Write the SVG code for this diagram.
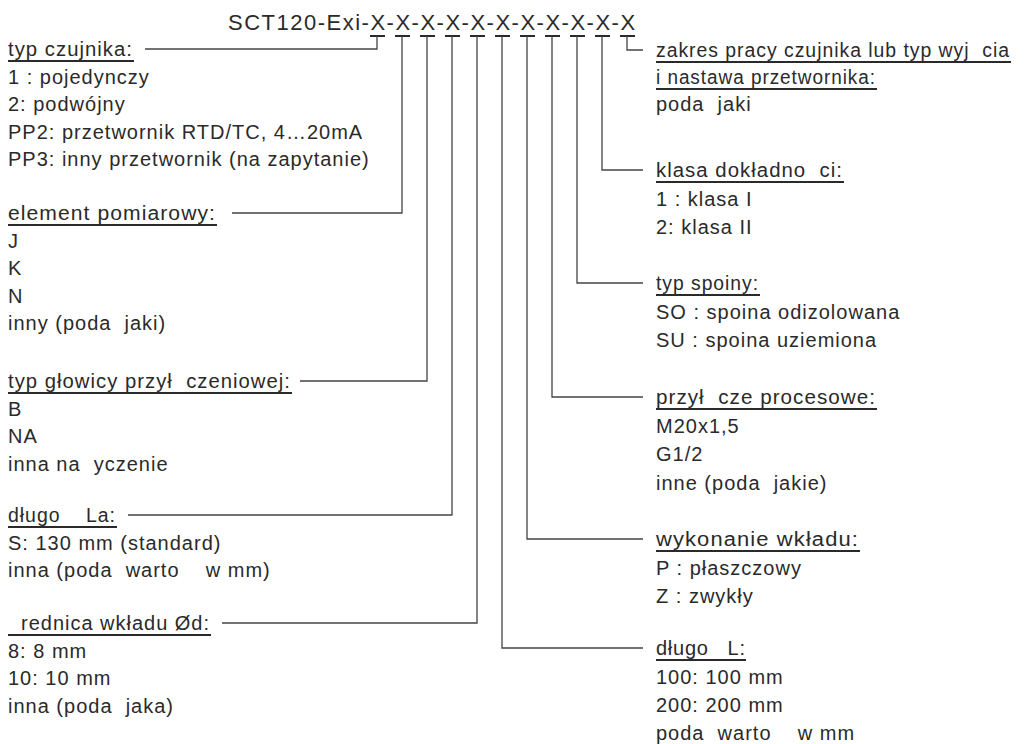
<svg xmlns="http://www.w3.org/2000/svg" width="1029" height="744" viewBox="0 0 1029 744">
<style>
text{font-family:"Liberation Sans",Arial,sans-serif;fill:#2a2a2a;}
.t{font-size:22px;letter-spacing:1.5px;}
.b{font-size:20px;letter-spacing:1px;}
.c{stroke:#444;stroke-width:1.3;fill:none;}
.u{stroke:#2a2a2a;stroke-width:2;fill:none;}
.ux{stroke:#2a2a2a;stroke-width:1.8;}
</style>
<rect width="1029" height="744" fill="#fff"/>
<g id="title">
<text class="t" x="228" y="30">SCT120-Exi-X-X-X-X-X-X-X-X-X-X-X</text>
<path class="ux" d="M370 36h15M395 36h15M420 36h15M445 36h15M470 36h15M495 36h15M520 36h15M545 36h15M570 36h15M595 36h15M620 36h15"/>
</g>
<g id="connectors">
<path class="c" d="M377 36V49H145"/>
<path class="c" d="M402 36V213H232"/>
<path class="c" d="M427 36V381H300"/>
<path class="c" d="M452 36V515H128"/>
<path class="c" d="M477 36V623H222"/>
<path class="c" d="M502 36V648H643"/>
<path class="c" d="M527 36V539H643"/>
<path class="c" d="M552 36V397H643"/>
<path class="c" d="M577 36V283H643"/>
<path class="c" d="M602 36V170H643"/>
<path class="c" d="M627 36V50H643"/>
</g>
<g id="typ-czujnika">
<text class="b" x="8" y="56" textLength="125" lengthAdjust="spacingAndGlyphs">typ czujnika:</text>
<path class="u" d="M8 61h126"/>
<text class="b" x="8" y="83.5">1 : pojedynczy</text>
<text class="b" x="8" y="111">2: podwójny</text>
<text class="b" x="8" y="138.5">PP2: przetwornik RTD/TC, 4…20mA</text>
<text class="b" x="8" y="166">PP3: inny przetwornik (na zapytanie)</text>
</g>
<g id="element-pomiarowy">
<text class="b" x="8" y="220" textLength="208" lengthAdjust="spacingAndGlyphs">element pomiarowy:</text>
<path class="u" d="M8 225h209"/>
<text class="b" x="8" y="247.5">J</text>
<text class="b" x="8" y="275">K</text>
<text class="b" x="8" y="302.5">N</text>
<text class="b" x="8" y="330">inny (poda&#160;&#160;jaki)</text>
</g>
<g id="typ-glowicy">
<text class="b" x="8" y="388" textLength="283" lengthAdjust="spacingAndGlyphs">typ głowicy przył&#160;&#160;czeniowej:</text>
<path class="u" d="M8 393h284"/>
<text class="b" x="8" y="415.5">B</text>
<text class="b" x="8" y="443">NA</text>
<text class="b" x="8" y="470.5">inna na&#160;&#160;yczenie</text>
</g>
<g id="dlugosc-la">
<text class="b" x="8" y="522" textLength="108" lengthAdjust="spacingAndGlyphs">długo&#160;&#160;&#160;&#160;La:</text>
<path class="u" d="M8 527h109"/>
<text class="b" x="8" y="549.5">S: 130 mm (standard)</text>
<text class="b" x="8" y="577">inna (poda&#160;&#160;warto&#160;&#160;&#160;&#160;w mm)</text>
</g>
<g id="srednica">
<text class="b" x="8" y="630" textLength="202" lengthAdjust="spacingAndGlyphs">&#160;&#160;rednica wkładu Ød:</text>
<path class="u" d="M8 635h203"/>
<text class="b" x="8" y="657.5">8: 8 mm</text>
<text class="b" x="8" y="685">10: 10 mm</text>
<text class="b" x="8" y="712.5">inna (poda&#160;&#160;jaka)</text>
</g>
<g id="zakres-pracy">
<text class="b" x="656" y="57" textLength="354" lengthAdjust="spacingAndGlyphs">zakres pracy czujnika lub typ wyj&#160;&#160;cia</text>
<path class="u" d="M656 62h355"/>
<text class="b" x="656" y="84" textLength="220" lengthAdjust="spacingAndGlyphs">i nastawa przetwornika:</text>
<path class="u" d="M656 89h221"/>
<text class="b" x="656" y="111">poda&#160;&#160;jaki</text>
</g>
<g id="klasa">
<text class="b" x="656" y="177" textLength="187" lengthAdjust="spacingAndGlyphs">klasa dokładno&#160;&#160;ci:</text>
<path class="u" d="M656 182h188"/>
<text class="b" x="656" y="205.5">1 : klasa I</text>
<text class="b" x="656" y="234">2: klasa II</text>
</g>
<g id="typ-spoiny">
<text class="b" x="656" y="290" textLength="103" lengthAdjust="spacingAndGlyphs">typ spoiny:</text>
<path class="u" d="M656 295h104"/>
<text class="b" x="656" y="318.5">SO : spoina odizolowana</text>
<text class="b" x="656" y="347">SU : spoina uziemiona</text>
</g>
<g id="przylacze">
<text class="b" x="656" y="404" textLength="220" lengthAdjust="spacingAndGlyphs">przył&#160;&#160;cze procesowe:</text>
<path class="u" d="M656 409h221"/>
<text class="b" x="656" y="432.5">M20x1,5</text>
<text class="b" x="656" y="461">G1/2</text>
<text class="b" x="656" y="489.5">inne (poda&#160;&#160;jakie)</text>
</g>
<g id="wykonanie">
<text class="b" x="656" y="546" textLength="203" lengthAdjust="spacingAndGlyphs">wykonanie wkładu:</text>
<path class="u" d="M656 551h204"/>
<text class="b" x="656" y="574.5">P : płaszczowy</text>
<text class="b" x="656" y="603">Z : zwykły</text>
</g>
<g id="dlugosc-l">
<text class="b" x="656" y="655" textLength="90" lengthAdjust="spacing">długo&#160;&#160;&#160;L:</text>
<path class="u" d="M656 660h90"/>
<text class="b" x="656" y="683.5">100: 100 mm</text>
<text class="b" x="656" y="712">200: 200 mm</text>
<text class="b" x="656" y="740">poda&#160;&#160;warto&#160;&#160;&#160;&#160;w mm</text>
</g>
</svg>
